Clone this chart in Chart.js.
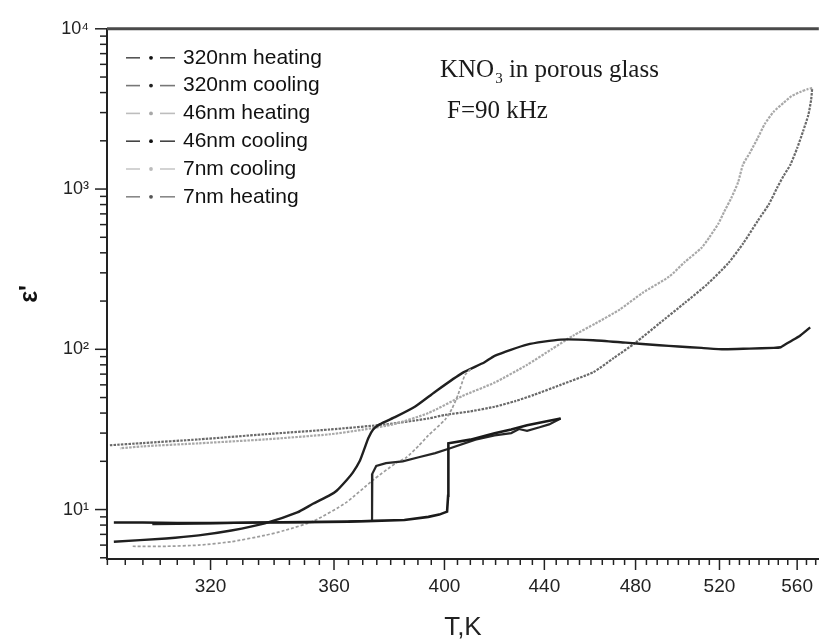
<!DOCTYPE html>
<html>
<head>
<meta charset="utf-8">
<title>KNO3 in porous glass</title>
<script src="https://cdn.jsdelivr.net/npm/chart.js@4.4.1/dist/chart.umd.min.js"></script>
<style>
  html, body { margin: 0; padding: 0; background: #fff; }
  #wrap { width: 829px; height: 639px; }
</style>
</head>
<body>
<div id="wrap"><canvas id="chart" width="829" height="639"></canvas></div>
<script>
// ---- data (T in K, eps' on log scale) ----
const seriesLabels = ["320nm heating", "320nm cooling", "46nm heating", "46nm cooling", "7nm cooling", "7nm heating"];

const t320Heat = [291.8, 300, 310, 320, 335, 350, 365, 374, 385, 393.9, 398, 401.0, 401.4, 401.4, 401.6, 410, 419.6, 426.3, 432.8, 440, 446.9];
const e320Heat = [8.3, 8.3, 8.25, 8.25, 8.3, 8.35, 8.4, 8.5, 8.6, 9.0, 9.3, 9.7, 12.2, 20, 25.9, 27.3, 29.9, 31.6, 33.6, 35.3, 37];

const t320Cool = [446.9, 442, 438, 432.8, 429.5, 426.3, 419.6, 412, 402.2, 396.5, 390.3, 384.4, 378.3, 374.8, 373.4, 373.3, 365, 350, 335, 320, 310, 302.7];
const e320Cool = [37, 34, 32.6, 31, 31.8, 30, 29, 27.3, 24.1, 22.5, 21.2, 20, 19.5, 18.7, 16.7, 8.5, 8.45, 8.35, 8.3, 8.2, 8.15, 8.1];

const t46Heat = [297.1, 307, 316.4, 326.4, 337, 343.4, 353.2, 364, 373.7, 381.9, 385.5, 390.3, 393.9, 400.3, 402.9, 405.2, 407.9, 410.5];
const e46Heat = [5.9, 5.9, 6.0, 6.3, 6.9, 7.4, 8.5, 11, 15.3, 19.5, 21, 25, 29, 36.5, 42.6, 52, 69, 76];

const t46Cool = [567.0, 561.7, 556.4, 553, 551.3, 547.6, 535, 522.3, 511.2, 500, 491, 475.5, 461, 446.9, 432.8, 419.6, 415.6, 406.8, 396.5, 389, 381.9, 376, 373.7, 372, 370.6, 368.9, 366.5, 364.4, 360.9, 358.6, 353, 347.6, 337, 326.4, 316.4, 306.7, 291.8];
const e46Cool = [137, 122, 112, 106, 103, 102, 101, 100, 102, 104, 106, 110, 114, 115, 107, 91, 83, 71, 54.4, 44, 38, 34, 31.6, 28, 24, 20, 17, 15.3, 13.1, 12.3, 10.9, 9.6, 8.2, 7.4, 6.9, 6.6, 6.3];

const t7Cool = [568.1, 565.5, 562, 557, 552.8, 547.6, 543, 539.4, 535.5, 531.8, 529.3, 525.9, 522.3, 519.5, 515, 511.2, 503, 495.6, 483.2, 472.8, 462, 452.4, 443, 432.8, 419.6, 406.8, 393.9, 380.8, 370, 358.6, 337, 316.4, 300, 293.5];
const e7Cool = [4270, 4200, 4050, 3800, 3450, 3040, 2550, 2090, 1700, 1420, 1100, 880, 720, 610, 500, 430, 350, 284, 225, 177, 145, 122, 100, 80, 62, 51, 40, 34, 31.5, 29.5, 27.4, 25.9, 24.8, 24.1];

const t7Heat = [290.7, 300, 316.4, 337, 358.6, 378.3, 393.9, 400.3, 410, 419.6, 428, 435.7, 446.9, 461, 470, 480, 491, 503.1, 514, 524.4, 532, 539.4, 545, 549.6, 553, 556.4, 560, 563.2, 566, 567.5, 568.1];
const e7Heat = [25.2, 26, 27.4, 29.5, 31.6, 34, 37, 39, 41, 43.8, 47.5, 52, 60, 72, 88, 110, 145, 195, 255, 345, 460, 635, 800, 1030, 1220, 1420, 1800, 2300, 2900, 3600, 4270];

const xTickValues = [320, 360, 400, 440, 480, 520, 560];
const yTickValues = [10, 100, 1000, 10000];
const yTickLabels = ["10\u00B9", "10\u00B2", "10\u00B3", "10\u2074"];

// ---- styles ----
const lineColors = ["#1a1a1a", "#262626", "#9c9c9c", "#202020", "#a8a8a8", "#6a6a6a"];
const lineWidths = [2.6, 2.2, 1.7, 2.4, 2.2, 2.2];
const lineDash = [[], [], [3, 2], [], [2.5, 1.2], [2.5, 1.2]];
const legendLine = ["#555", "#777", "#bdbdbd", "#444", "#c8c8c8", "#888"];
const legendDot = ["#111", "#222", "#a8a8a8", "#111", "#bbb", "#555"];

const pairs = (ts, es) => ts.map((t, i) => ({ x: t, y: es[i] }));
const allSeries = [
  pairs(t320Heat, e320Heat), pairs(t320Cool, e320Cool),
  pairs(t46Heat, e46Heat), pairs(t46Cool, e46Cool),
  pairs(t7Cool, e7Cool), pairs(t7Heat, e7Heat)
];

const datasets = allSeries.map((d, i) => ({
  label: seriesLabels[i],
  data: d,
  borderColor: lineColors[i],
  backgroundColor: lineColors[i],
  borderWidth: lineWidths[i],
  borderDash: lineDash[i],
  pointRadius: 0,
  tension: i < 2 ? 0 : 0.2,
  fill: false
}));

const sansFont = "'Liberation Sans', Arial, sans-serif";
const serifFont = "'Liberation Serif', 'Times New Roman', serif";

// ticks, top frame, inner legend and the note
const decorations = {
  id: 'decorations',
  afterDraw(chart) {
    const { ctx, chartArea: a, scales: { x, y } } = chart;
    ctx.save();
    const seg = (x1, y1, x2, y2) => { ctx.beginPath(); ctx.moveTo(x1, y1); ctx.lineTo(x2, y2); ctx.stroke(); };

    ctx.strokeStyle = '#4a4a4a';
    ctx.lineWidth = 3;
    seg(a.left, a.top, a.right, a.top);

    ctx.strokeStyle = '#222';
    ctx.lineWidth = 1.5;
    for (let t = 290; t <= 570; t += 5) {
      const px = x.getPixelForValue(t);
      const len = xTickValues.includes(t) ? 11 : 6;
      seg(px, a.bottom, px, a.bottom + len);
    }
    for (let e = 0; e <= 4; e++) {
      for (let m = 1; m <= 9; m++) {
        const v = m * Math.pow(10, e);
        if (v < y.min || v > y.max * 1.001) continue;
        const py = y.getPixelForValue(v);
        seg(a.left - (m === 1 ? 12 : 7), py, a.left, py);
      }
    }

    // legend
    ctx.font = "21px " + sansFont;
    ctx.textBaseline = 'middle';
    seriesLabels.forEach((lab, i) => {
      const ry = a.top + 29 + i * 27.8;
      ctx.strokeStyle = legendLine[i];
      ctx.lineWidth = 1.6;
      seg(a.left + 19, ry, a.left + 33, ry);
      seg(a.left + 53, ry, a.left + 68, ry);
      ctx.fillStyle = legendDot[i];
      ctx.beginPath(); ctx.arc(a.left + 44, ry, 1.9, 0, Math.PI * 2); ctx.fill();
      ctx.fillStyle = '#111';
      ctx.fillText(lab, a.left + 76, ry);
    });

    // note
    ctx.fillStyle = '#1a1a1a';
    ctx.textBaseline = 'alphabetic';
    ctx.font = "25px " + serifFont;
    let nx = 440;
    ctx.fillText('KNO', nx, 77);
    nx += ctx.measureText('KNO').width + 1;
    ctx.font = "15px " + serifFont;
    ctx.fillText('3', nx, 83);
    nx += ctx.measureText('3').width;
    ctx.font = "25px " + serifFont;
    ctx.fillText(' in porous glass', nx, 77);
    ctx.fillText('F=90 kHz', 447, 118);
    ctx.restore();
  }
};

new Chart(document.getElementById('chart'), {
  type: 'line',
  data: { datasets: datasets },
  options: {
    responsive: false,
    animation: false,
    layout: { padding: { top: 24, right: 0, bottom: 0, left: 0 } },
    scales: {
      x: {
        type: 'logarithmic',
        min: 289.9,
        max: 571.7,
        bounds: 'data',
        afterFit: (s) => { s.height = 80; },
        afterBuildTicks: (s) => { s.ticks = xTickValues.map(v => ({ value: v })); },
        grid: { display: false, drawTicks: false },
        border: { display: true, color: '#222', width: 2 },
        ticks: {
          autoSkip: false, maxRotation: 0, minRotation: 0, padding: 16,
          color: '#222', font: { family: sansFont, size: 19 },
          callback: (v) => String(v)
        },
        title: {
          display: true, text: 'T,K', color: '#222',
          font: { family: sansFont, size: 26, lineHeight: 1 },
          padding: { top: 0, bottom: -2 }
        }
      },
      y: {
        type: 'logarithmic',
        min: 4.914,
        max: 10000,
        bounds: 'data',
        afterFit: (s) => { s.width = 107; },
        afterBuildTicks: (s) => { s.ticks = yTickValues.map(v => ({ value: v })); },
        grid: { display: false, drawTicks: false },
        border: { display: true, color: '#222', width: 2 },
        ticks: {
          autoSkip: false, padding: 18, color: '#222',
          font: { family: sansFont, size: 18 },
          callback: (v) => { const k = yTickValues.indexOf(v); return k >= 0 ? yTickLabels[k] : ''; }
        },
        title: {
          display: true, text: "\u03B5'", color: '#111',
          font: { family: sansFont, size: 25, weight: 'bold', lineHeight: 1 },
          padding: { top: 18, bottom: 0 }
        }
      }
    },
    plugins: {
      legend: { display: false },
      title: { display: false },
      tooltip: { enabled: false }
    }
  },
  plugins: [decorations]
});
</script>
</body>
</html>
